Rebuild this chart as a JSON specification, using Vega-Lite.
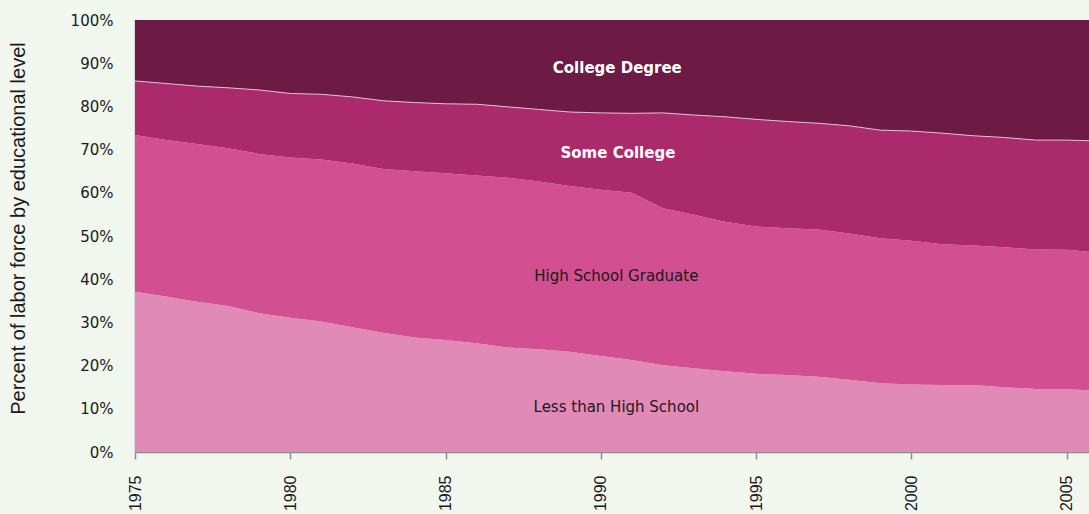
{
  "$schema": "https://vega.github.io/schema/vega-lite/v6.json",
  "width": 954,
  "height": 432,
  "autosize": {"type": "none"},
  "padding": {"left": 135, "top": 20, "right": 0, "bottom": 62},
  "background": "#F1F7EF",
  "config": {"view": {"stroke": null}, "font": "DejaVu Sans"},
  "datasets": {
    "shares": [
      {"year":1975,"level":"Less than High School","pct":37.1,"ord":1},{"year":1975,"level":"High School Graduate","pct":36.3,"ord":2},{"year":1975,"level":"Some College","pct":12.5,"ord":3},{"year":1975,"level":"College Degree","pct":14.1,"ord":4},
      {"year":1976,"level":"Less than High School","pct":36.0,"ord":1},{"year":1976,"level":"High School Graduate","pct":36.2,"ord":2},{"year":1976,"level":"Some College","pct":13.1,"ord":3},{"year":1976,"level":"College Degree","pct":14.7,"ord":4},
      {"year":1977,"level":"Less than High School","pct":34.8,"ord":1},{"year":1977,"level":"High School Graduate","pct":36.5,"ord":2},{"year":1977,"level":"Some College","pct":13.4,"ord":3},{"year":1977,"level":"College Degree","pct":15.3,"ord":4},
      {"year":1978,"level":"Less than High School","pct":33.8,"ord":1},{"year":1978,"level":"High School Graduate","pct":36.5,"ord":2},{"year":1978,"level":"Some College","pct":14.0,"ord":3},{"year":1978,"level":"College Degree","pct":15.7,"ord":4},
      {"year":1979,"level":"Less than High School","pct":32.1,"ord":1},{"year":1979,"level":"High School Graduate","pct":36.9,"ord":2},{"year":1979,"level":"Some College","pct":14.8,"ord":3},{"year":1979,"level":"College Degree","pct":16.2,"ord":4},
      {"year":1980,"level":"Less than High School","pct":31.1,"ord":1},{"year":1980,"level":"High School Graduate","pct":37.1,"ord":2},{"year":1980,"level":"Some College","pct":14.8,"ord":3},{"year":1980,"level":"College Degree","pct":17.0,"ord":4},
      {"year":1981,"level":"Less than High School","pct":30.2,"ord":1},{"year":1981,"level":"High School Graduate","pct":37.5,"ord":2},{"year":1981,"level":"Some College","pct":15.1,"ord":3},{"year":1981,"level":"College Degree","pct":17.2,"ord":4},
      {"year":1982,"level":"Less than High School","pct":28.9,"ord":1},{"year":1982,"level":"High School Graduate","pct":37.9,"ord":2},{"year":1982,"level":"Some College","pct":15.4,"ord":3},{"year":1982,"level":"College Degree","pct":17.8,"ord":4},
      {"year":1983,"level":"Less than High School","pct":27.6,"ord":1},{"year":1983,"level":"High School Graduate","pct":37.9,"ord":2},{"year":1983,"level":"Some College","pct":15.8,"ord":3},{"year":1983,"level":"College Degree","pct":18.7,"ord":4},
      {"year":1984,"level":"Less than High School","pct":26.5,"ord":1},{"year":1984,"level":"High School Graduate","pct":38.5,"ord":2},{"year":1984,"level":"Some College","pct":15.9,"ord":3},{"year":1984,"level":"College Degree","pct":19.1,"ord":4},
      {"year":1985,"level":"Less than High School","pct":25.9,"ord":1},{"year":1985,"level":"High School Graduate","pct":38.6,"ord":2},{"year":1985,"level":"Some College","pct":16.1,"ord":3},{"year":1985,"level":"College Degree","pct":19.4,"ord":4},
      {"year":1986,"level":"Less than High School","pct":25.2,"ord":1},{"year":1986,"level":"High School Graduate","pct":38.8,"ord":2},{"year":1986,"level":"Some College","pct":16.5,"ord":3},{"year":1986,"level":"College Degree","pct":19.5,"ord":4},
      {"year":1987,"level":"Less than High School","pct":24.2,"ord":1},{"year":1987,"level":"High School Graduate","pct":39.3,"ord":2},{"year":1987,"level":"Some College","pct":16.4,"ord":3},{"year":1987,"level":"College Degree","pct":20.1,"ord":4},
      {"year":1988,"level":"Less than High School","pct":23.8,"ord":1},{"year":1988,"level":"High School Graduate","pct":38.8,"ord":2},{"year":1988,"level":"Some College","pct":16.7,"ord":3},{"year":1988,"level":"College Degree","pct":20.7,"ord":4},
      {"year":1989,"level":"Less than High School","pct":23.2,"ord":1},{"year":1989,"level":"High School Graduate","pct":38.4,"ord":2},{"year":1989,"level":"Some College","pct":17.1,"ord":3},{"year":1989,"level":"College Degree","pct":21.3,"ord":4},
      {"year":1990,"level":"Less than High School","pct":22.2,"ord":1},{"year":1990,"level":"High School Graduate","pct":38.5,"ord":2},{"year":1990,"level":"Some College","pct":17.8,"ord":3},{"year":1990,"level":"College Degree","pct":21.5,"ord":4},
      {"year":1991,"level":"Less than High School","pct":21.3,"ord":1},{"year":1991,"level":"High School Graduate","pct":38.7,"ord":2},{"year":1991,"level":"Some College","pct":18.4,"ord":3},{"year":1991,"level":"College Degree","pct":21.6,"ord":4},
      {"year":1992,"level":"Less than High School","pct":20.1,"ord":1},{"year":1992,"level":"High School Graduate","pct":36.3,"ord":2},{"year":1992,"level":"Some College","pct":22.1,"ord":3},{"year":1992,"level":"College Degree","pct":21.5,"ord":4},
      {"year":1993,"level":"Less than High School","pct":19.4,"ord":1},{"year":1993,"level":"High School Graduate","pct":35.5,"ord":2},{"year":1993,"level":"Some College","pct":23.1,"ord":3},{"year":1993,"level":"College Degree","pct":22.0,"ord":4},
      {"year":1994,"level":"Less than High School","pct":18.7,"ord":1},{"year":1994,"level":"High School Graduate","pct":34.6,"ord":2},{"year":1994,"level":"Some College","pct":24.3,"ord":3},{"year":1994,"level":"College Degree","pct":22.4,"ord":4},
      {"year":1995,"level":"Less than High School","pct":18.1,"ord":1},{"year":1995,"level":"High School Graduate","pct":34.1,"ord":2},{"year":1995,"level":"Some College","pct":24.8,"ord":3},{"year":1995,"level":"College Degree","pct":23.0,"ord":4},
      {"year":1996,"level":"Less than High School","pct":17.8,"ord":1},{"year":1996,"level":"High School Graduate","pct":34.0,"ord":2},{"year":1996,"level":"Some College","pct":24.7,"ord":3},{"year":1996,"level":"College Degree","pct":23.5,"ord":4},
      {"year":1997,"level":"Less than High School","pct":17.4,"ord":1},{"year":1997,"level":"High School Graduate","pct":34.1,"ord":2},{"year":1997,"level":"Some College","pct":24.6,"ord":3},{"year":1997,"level":"College Degree","pct":23.9,"ord":4},
      {"year":1998,"level":"Less than High School","pct":16.7,"ord":1},{"year":1998,"level":"High School Graduate","pct":33.9,"ord":2},{"year":1998,"level":"Some College","pct":24.9,"ord":3},{"year":1998,"level":"College Degree","pct":24.5,"ord":4},
      {"year":1999,"level":"Less than High School","pct":15.9,"ord":1},{"year":1999,"level":"High School Graduate","pct":33.6,"ord":2},{"year":1999,"level":"Some College","pct":25.0,"ord":3},{"year":1999,"level":"College Degree","pct":25.5,"ord":4},
      {"year":2000,"level":"Less than High School","pct":15.6,"ord":1},{"year":2000,"level":"High School Graduate","pct":33.3,"ord":2},{"year":2000,"level":"Some College","pct":25.4,"ord":3},{"year":2000,"level":"College Degree","pct":25.7,"ord":4},
      {"year":2001,"level":"Less than High School","pct":15.5,"ord":1},{"year":2001,"level":"High School Graduate","pct":32.6,"ord":2},{"year":2001,"level":"Some College","pct":25.7,"ord":3},{"year":2001,"level":"College Degree","pct":26.2,"ord":4},
      {"year":2002,"level":"Less than High School","pct":15.5,"ord":1},{"year":2002,"level":"High School Graduate","pct":32.3,"ord":2},{"year":2002,"level":"Some College","pct":25.4,"ord":3},{"year":2002,"level":"College Degree","pct":26.8,"ord":4},
      {"year":2003,"level":"Less than High School","pct":15.0,"ord":1},{"year":2003,"level":"High School Graduate","pct":32.4,"ord":2},{"year":2003,"level":"Some College","pct":25.4,"ord":3},{"year":2003,"level":"College Degree","pct":27.2,"ord":4},
      {"year":2004,"level":"Less than High School","pct":14.6,"ord":1},{"year":2004,"level":"High School Graduate","pct":32.3,"ord":2},{"year":2004,"level":"Some College","pct":25.3,"ord":3},{"year":2004,"level":"College Degree","pct":27.8,"ord":4},
      {"year":2005,"level":"Less than High School","pct":14.5,"ord":1},{"year":2005,"level":"High School Graduate","pct":32.3,"ord":2},{"year":2005,"level":"Some College","pct":25.4,"ord":3},{"year":2005,"level":"College Degree","pct":27.8,"ord":4},
      {"year":2006,"level":"Less than High School","pct":14.2,"ord":1},{"year":2006,"level":"High School Graduate","pct":32.0,"ord":2},{"year":2006,"level":"Some College","pct":25.8,"ord":3},{"year":2006,"level":"College Degree","pct":28.0,"ord":4}
    ],
    "lightLabels": [
      {"text":"College Degree","year":1990.53,"pct":88.9},
      {"text":"Some College","year":1990.55,"pct":69.2}
    ],
    "darkLabels": [
      {"text":"High School Graduate","year":1990.5,"pct":40.7},
      {"text":"Less than High School","year":1990.5,"pct":10.4}
    ]
  },
  "layer": [
    {
      "data": {"name": "shares"},
      "mark": {"type": "area", "clip": true, "interpolate": "linear"},
      "encoding": {
        "x": {
          "field": "year", "type": "quantitative",
          "scale": {"domain": [1975, 2005.72], "nice": false, "zero": false},
          "axis": {
            "values": [1975, 1980, 1985, 1990, 1995, 2000, 2005],
            "format": "d", "labelAngle": -90, "labelFontSize": 16, "labelColor": "#1a1a1a",
            "labelPadding": 16, "tickSize": 7, "tickColor": "#8c8c8c", "domainColor": "#8c8c8c",
            "domainWidth": 1.5, "tickWidth": 1.5, "grid": false, "title": null, "labelFont": "Liberation Sans"
          }
        },
        "y": {
          "field": "pct", "type": "quantitative", "stack": "zero",
          "scale": {"domain": [0, 100], "nice": false},
          "axis": {
            "values": [0, 10, 20, 30, 40, 50, 60, 70, 80, 90, 100],
            "labelExpr": "datum.value + '%'", "labelFontSize": 15, "labelColor": "#1a1a1a",
            "labelPadding": 22, "tickSize": 0, "domainColor": "#8c8c8c", "domainWidth": 1.5, "grid": false,
            "title": "Percent of labor force by educational level", "titleFont": "Liberation Sans",
            "titleFontSize": 20, "titleFontWeight": "normal", "titleColor": "#1a1a1a",
            "titleX": -117, "titleY": 208, "titleAngle": 270, "titleAlign": "center", "titleBaseline": "middle",
            "labelFont": "DejaVu Sans"
          }
        },
        "color": {
          "field": "level", "type": "nominal",
          "scale": {
            "domain": ["Less than High School", "High School Graduate", "Some College", "College Degree"],
            "range": ["#E28AB7", "#D24F91", "#AB2A6B", "#6D1B45"]
          },
          "legend": null
        },
        "order": {"field": "ord", "type": "quantitative"}
      }
    },
    {
      "data": {"name": "shares"},
      "transform": [
        {"stack": "pct", "groupby": ["year"], "sort": [{"field": "ord", "order": "ascending"}], "as": ["y0", "y1"]},
        {"filter": "datum.level === 'Some College'"}
      ],
      "mark": {"type": "line", "clip": true, "color": "#E9B9D1", "strokeWidth": 1},
      "encoding": {
        "x": {"field": "year", "type": "quantitative"},
        "y": {"field": "y1", "type": "quantitative"}
      }
    },
    {
      "data": {"name": "lightLabels"},
      "mark": {"type": "text", "align": "center", "baseline": "middle", "font": "DejaVu Sans", "fontWeight": "bold", "fontSize": 15, "color": "#ffffff"},
      "encoding": {
        "x": {"field": "year", "type": "quantitative"},
        "y": {"field": "pct", "type": "quantitative"},
        "text": {"field": "text"}
      }
    },
    {
      "data": {"name": "darkLabels"},
      "mark": {"type": "text", "align": "center", "baseline": "middle", "font": "DejaVu Sans", "fontSize": 15, "color": "#1a1a1a"},
      "encoding": {
        "x": {"field": "year", "type": "quantitative"},
        "y": {"field": "pct", "type": "quantitative"},
        "text": {"field": "text"}
      }
    }
  ]
}
